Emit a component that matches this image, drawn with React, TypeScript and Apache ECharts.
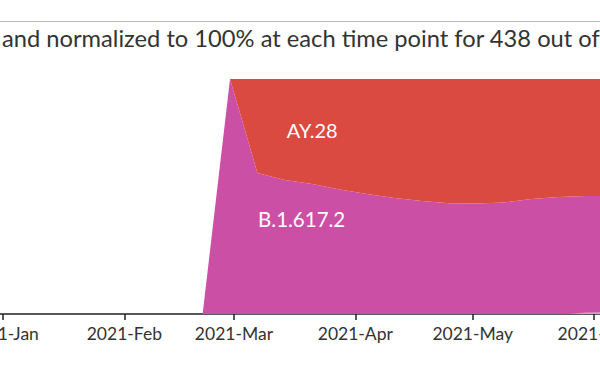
import React, { useEffect, useRef } from "react";
import * as echarts from "echarts";

const dates = [
  "2021-02-21", "2021-02-28", "2021-03-07", "2021-03-14", "2021-03-21", "2021-03-28",
  "2021-04-04", "2021-04-11", "2021-04-18", "2021-04-25", "2021-05-02", "2021-05-09",
  "2021-05-16", "2021-05-23", "2021-05-30", "2021-06-06",
];
const otherPct = [0, 0, 0, 0, 0, 0, 0, 0, 0, 0, 0, 0, 0, 0, 0.5, 0.8];
const b16172Pct = [0, 100, 60.0, 57.0, 55.3, 53.0, 51.1, 49.4, 48.1, 47.1, 47.0, 47.4, 48.9, 49.8, 49.7, 49.4];
const ay28Pct = [0, 0, 40.0, 43.0, 44.7, 47.0, 48.9, 50.6, 51.9, 52.9, 53.0, 52.6, 51.1, 50.2, 49.8, 49.8];
const monthNames = ["Jan", "Feb", "Mar", "Apr", "May", "Jun", "Jul", "Aug", "Sep", "Oct", "Nov", "Dec"];
const titleText = "and normalized to 100% at each time point for 438 out of";

const DAY = 864e5;

function parseLocal(s: string) {
  const [y, m, d] = s.split("-").map(Number);
  return new Date(y, m - 1, d).getTime();
}

export default function App() {
  const ref = useRef<HTMLDivElement>(null);
  useEffect(() => {
    if (!ref.current) return;
    const chart = echarts.init(ref.current, undefined, { renderer: "svg" });
    const xMin = new Date(2021, 0, 1).getTime() - 0.77 * DAY;
    const xMax = xMin + (600 / 3.914) * DAY;
    const mk = (arr: number[]) => dates.map((d, i) => [parseLocal(d), arr[i]]);
    const base = {
      type: "line",
      stack: "total",
      symbol: "none",
      showSymbol: false,
      lineStyle: { width: 0 },
      emphasis: { disabled: true },
    };
    chart.setOption({
      animation: false,
      textStyle: { fontFamily: "Lato" },
      title: {
        text: titleText,
        left: 2,
        top: 26,
        padding: 0,
        textStyle: { fontFamily: "Lato", fontSize: 23.7, fontWeight: "normal", color: "#333" },
      },
      graphic: [
        {
          type: "line",
          shape: { x1: 0, y1: 21.5, x2: 600, y2: 21.5 },
          style: { stroke: "#bbbbbb", lineWidth: 1 },
        },
      ],
      grid: { left: 0, right: 0, top: 79, bottom: 57, containLabel: false, outerBoundsMode: "none" },
      xAxis: {
        type: "time",
        min: xMin,
        max: xMax,
        splitLine: { show: false },
        axisLine: { show: true, lineStyle: { color: "#222", width: 1.5 } },
        axisTick: { show: true, length: 6, lineStyle: { color: "#222", width: 1.5 } },
        minorTick: { show: false },
        axisLabel: {
          fontFamily: "Lato",
          fontSize: 17.5,
          color: "#333",
          margin: 10,
          formatter: (v: number) => {
            const d = new Date(v);
            return d.getFullYear() + "-" + monthNames[d.getMonth()];
          },
        },
      },
      yAxis: { type: "value", min: 0, max: 100, show: false },
      series: [
        {
          ...base,
          name: "other",
          data: mk(otherPct),
          areaStyle: { color: "#c9a9bd", opacity: 1 },
        },
        {
          ...base,
          name: "B.1.617.2",
          data: mk(b16172Pct),
          areaStyle: { color: "#cc4fa6", opacity: 1 },
          markPoint: {
            symbol: "circle",
            symbolSize: 0,
            data: [{ coord: [parseLocal("2021-03-18") + 0.3 * DAY, 40.4], name: "B.1.617.2" }],
            label: { show: true, position: "inside", formatter: "{b}", color: "#fff", fontFamily: "Lato", fontSize: 20.5 },
          },
        },
        {
          ...base,
          name: "AY.28",
          data: mk(ay28Pct),
          areaStyle: { color: "#db4a40", opacity: 1 },
          markPoint: {
            symbol: "circle",
            symbolSize: 0,
            data: [{ coord: [parseLocal("2021-03-21"), 78.3], name: "AY.28" }],
            label: { show: true, position: "inside", formatter: "{b}", color: "#fff", fontFamily: "Lato", fontSize: 20 },
          },
        },
      ],
    });
    return () => chart.dispose();
  }, []);
  return (
    <div
      ref={ref}
      style={{ position: "fixed", left: 0, top: 0, width: 600, height: 371, background: "#fff" }}
    />
  );
}
